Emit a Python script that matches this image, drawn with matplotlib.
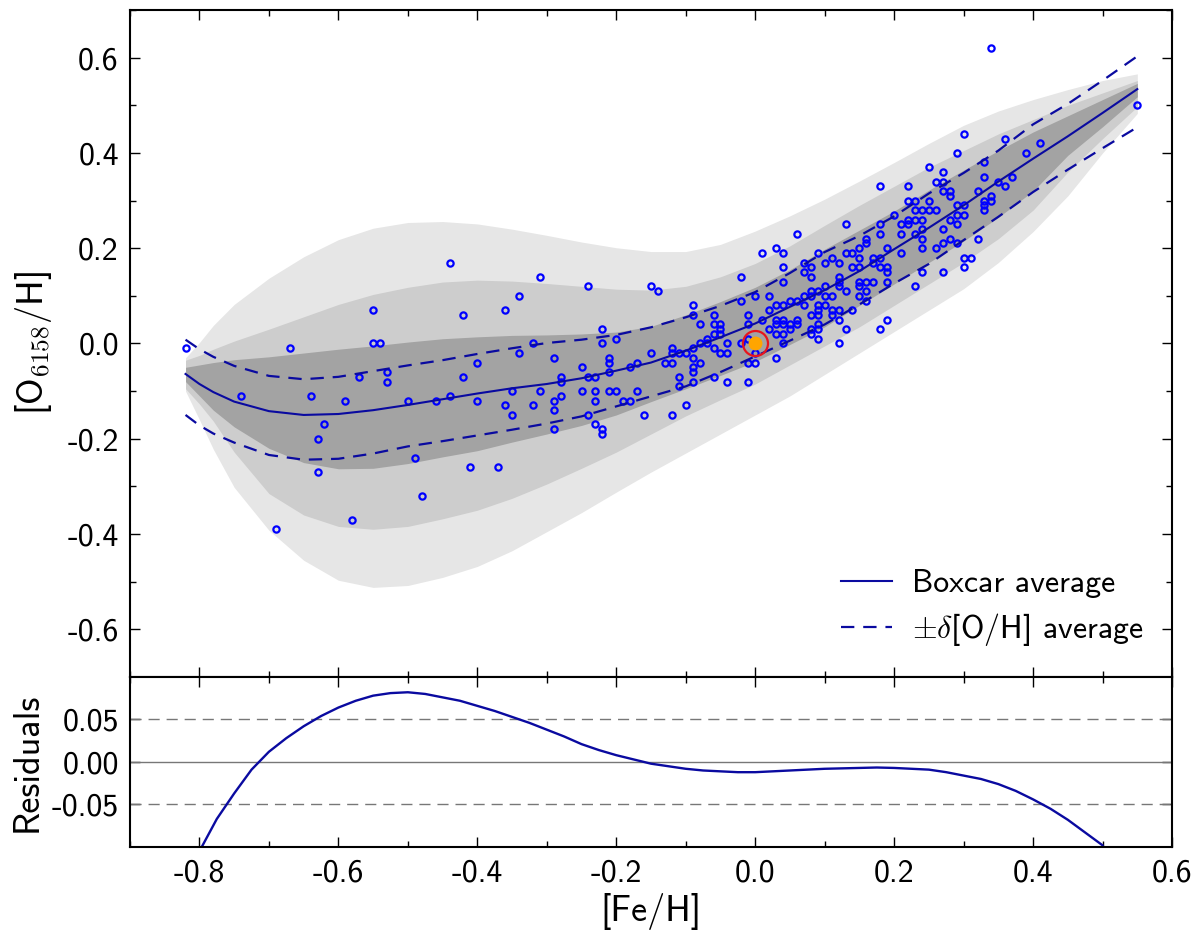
import matplotlib
matplotlib.use("Agg")
import matplotlib.pyplot as plt
from matplotlib.ticker import MultipleLocator, FormatStrFormatter

plt.rcParams['font.family'] = ['cmss10', 'DejaVu Sans']
plt.rcParams['mathtext.fontset'] = 'cm'
plt.rcParams['axes.unicode_minus'] = False
plt.rcParams['font.size'] = 23

# stars: [Fe/H] and [O6158/H]
fe_stars = [
    -0.82, -0.67, -0.55, -0.55, -0.54, -0.44, -0.57, -0.53, -0.53, -0.74, -0.64, -0.59,
    -0.50, -0.46, -0.44, -0.62, -0.63, -0.49, -0.63, -0.48, -0.58, -0.69,
    -0.31, -0.24, -0.15, -0.14, 0.01, -0.02, -0.34, -0.42, -0.36, -0.22, -0.20, -0.22,
    -0.32, -0.34, -0.40, -0.29, -0.42, -0.40, -0.35, -0.36, -0.35, -0.32, -0.31, -0.29,
    -0.28, -0.29, -0.29, -0.28, -0.28, -0.25, -0.25, -0.24, -0.23, -0.23, -0.23, -0.24,
    -0.23, -0.22, -0.22, -0.21, -0.21, -0.21, -0.21, -0.20, -0.19, -0.18, -0.18, -0.17,
    -0.17, -0.16, -0.15, -0.13, -0.12, -0.12, -0.12, -0.11, -0.10, -0.12, -0.11, -0.11,
    -0.10, -0.09, -0.09, -0.08, -0.09, -0.09, -0.09, -0.09, -0.09, -0.08, -0.07, -0.07,
    -0.08, -0.06, -0.06, -0.05, -0.05, -0.06, -0.05, -0.06, -0.04, -0.05, -0.04, -0.06,
    -0.04, -0.02, -0.02, 0.00, -0.01, -0.01, 0.01, -0.01, 0.00, -0.01, 0.00, -0.01,
    0.02, 0.02,
    0.18, 0.22, 0.26, 0.27, 0.28, 0.28, 0.22, 0.23, 0.25, 0.23, 0.24, 0.25, 0.26, 0.29,
    0.30, 0.29, 0.30, 0.20, 0.21, 0.22, 0.23, 0.24, 0.22, 0.28, 0.29, 0.18, 0.13, 0.18,
    0.21, 0.23, 0.24, 0.27, 0.06, 0.16, 0.16, 0.24, 0.28, 0.27, 0.19, 0.21, 0.24, 0.26,
    0.03, 0.04, 0.09, 0.13, 0.14, 0.15, 0.15, 0.17, 0.18, 0.07, 0.10, 0.11, 0.12, 0.08,
    0.04, 0.14, 0.15, 0.17, 0.18, 0.19, 0.19, 0.24, 0.27, 0.30, 0.30, 0.07, 0.04, 0.08,
    0.12, 0.12, 0.12, 0.13, 0.15, 0.16, 0.17, 0.15, 0.19, 0.23, 0.16, 0.15, 0.16, 0.10,
    0.09, 0.08, 0.10, 0.11, 0.07, 0.08, 0.06, 0.05, 0.04, 0.03, 0.02, 0.07, 0.09, 0.10,
    0.09, 0.09, 0.11, 0.12, 0.08, 0.12, 0.14, 0.03, 0.04, 0.03, 0.04, 0.05, 0.06, 0.06,
    0.08, 0.09, 0.09, 0.11, 0.05, 0.03, 0.04, 0.09, 0.08, 0.13, 0.12, 0.18, 0.19, 0.04,
    0.03,
    0.34, 0.55, 0.30, 0.36, 0.41, 0.29, 0.39, 0.25, 0.33, 0.27, 0.33, 0.37, 0.35, 0.36,
    0.27, 0.32, 0.34, 0.33, 0.34, 0.33, 0.33, 0.29, 0.31, 0.32,
    -0.41, -0.37,
]
o_stars = [
    -0.01, -0.01, 0.07, 0.00, 0.00, 0.17, -0.07, -0.06, -0.08, -0.11, -0.11, -0.12,
    -0.12, -0.12, -0.11, -0.17, -0.20, -0.24, -0.27, -0.32, -0.37, -0.39,
    0.14, 0.12, 0.12, 0.11, 0.19, 0.14, 0.10, 0.06, 0.07, 0.03, 0.01, 0.00,
    0.00, -0.02, -0.04, -0.03, -0.07, -0.12, -0.10, -0.13, -0.15, -0.13, -0.10, -0.12,
    -0.11, -0.14, -0.18, -0.07, -0.08, -0.05, -0.10, -0.07, -0.07, -0.10, -0.12, -0.15,
    -0.17, -0.18, -0.19, -0.03, -0.04, -0.06, -0.10, -0.10, -0.12, -0.12, -0.05, -0.04,
    -0.10, -0.15, -0.02, -0.04, -0.04, -0.01, -0.02, -0.02, -0.02, -0.15, -0.07, -0.09,
    -0.13, 0.08, 0.06, 0.04, -0.01, -0.03, -0.05, -0.06, -0.08, 0.00, 0.00, 0.01,
    -0.04, 0.06, 0.04, 0.04, 0.03, 0.02, 0.02, -0.01, 0.00, -0.02, -0.02, -0.07,
    -0.08, 0.00, 0.09, 0.10, 0.06, 0.04, 0.05, 0.01, -0.02, -0.04, -0.04, -0.08,
    0.03, 0.10,
    0.33, 0.33, 0.34, 0.34, 0.32, 0.31, 0.30, 0.30, 0.30, 0.28, 0.28, 0.28, 0.28, 0.29,
    0.29, 0.27, 0.27, 0.27, 0.25, 0.26, 0.26, 0.26, 0.25, 0.26, 0.25, 0.25, 0.25, 0.23,
    0.23, 0.23, 0.24, 0.24, 0.23, 0.22, 0.21, 0.22, 0.22, 0.21, 0.20, 0.19, 0.20, 0.20,
    0.20, 0.19, 0.19, 0.19, 0.19, 0.20, 0.18, 0.18, 0.18, 0.17, 0.17, 0.18, 0.17, 0.16,
    0.16, 0.16, 0.16, 0.17, 0.16, 0.16, 0.15, 0.15, 0.15, 0.18, 0.16, 0.15, 0.13, 0.14,
    0.14, 0.13, 0.12, 0.11, 0.13, 0.13, 0.13, 0.12, 0.13, 0.12, 0.11, 0.10, 0.09, 0.12,
    0.11, 0.11, 0.10, 0.10, 0.10, 0.10, 0.09, 0.09, 0.08, 0.08, 0.07, 0.08, 0.08, 0.08,
    0.07, 0.06, 0.07, 0.07, 0.06, 0.05, 0.07, 0.05, 0.05, 0.04, 0.04, 0.04, 0.05, 0.04,
    0.03, 0.04, 0.03, 0.06, 0.03, 0.02, 0.02, 0.01, 0.02, 0.03, 0.00, 0.03, 0.05, 0.00,
    -0.03,
    0.62, 0.50, 0.44, 0.43, 0.42, 0.40, 0.40, 0.37, 0.38, 0.36, 0.35, 0.35, 0.34, 0.33,
    0.32, 0.32, 0.31, 0.30, 0.30, 0.29, 0.28, 0.21, 0.18, 0.22,
    -0.26, -0.26,
]

# the Sun
sun_fe = [0.0]
sun_o = [0.0]

# boxcar average, +-delta average and the 1/2/3 sigma bands
fe_grid = [-0.82, -0.80, -0.78, -0.75, -0.70, -0.65, -0.60, -0.55, -0.50, -0.45,
           -0.40, -0.35, -0.30, -0.25, -0.20, -0.15, -0.10, -0.05, 0.00, 0.05,
           0.10, 0.15, 0.20, 0.25, 0.30, 0.35, 0.40, 0.45, 0.50, 0.55]
boxcar_mean = [-0.064, -0.085, -0.102, -0.122, -0.142, -0.150, -0.148, -0.140, -0.129, -0.117,
               -0.105, -0.094, -0.085, -0.073, -0.057, -0.040, -0.015, 0.013, 0.042, 0.077,
               0.112, 0.152, 0.198, 0.243, 0.290, 0.340, 0.388, 0.435, 0.484, 0.534]
delta_hi = [0.008, -0.012, -0.028, -0.047, -0.068, -0.075, -0.070, -0.058, -0.046, -0.035,
            -0.022, -0.010, 0.001, 0.008, 0.018, 0.034, 0.055, 0.079, 0.108, 0.148,
            0.192, 0.226, 0.267, 0.315, 0.358, 0.405, 0.460, 0.503, 0.552, 0.603]
delta_lo = [-0.150, -0.172, -0.189, -0.208, -0.234, -0.244, -0.242, -0.231, -0.216, -0.205,
            -0.193, -0.181, -0.168, -0.153, -0.132, -0.111, -0.090, -0.060, -0.027, 0.006,
            0.040, 0.082, 0.126, 0.167, 0.217, 0.266, 0.318, 0.365, 0.410, 0.454]
light_hi = [-0.030, 0.002, 0.038, 0.082, 0.137, 0.182, 0.218, 0.242, 0.254, 0.256,
            0.251, 0.240, 0.227, 0.213, 0.201, 0.193, 0.193, 0.208, 0.236, 0.268,
            0.303, 0.341, 0.380, 0.420, 0.458, 0.488, 0.512, 0.533, 0.552, 0.566]
light_lo = [-0.100, -0.160, -0.222, -0.302, -0.392, -0.455, -0.497, -0.512, -0.508, -0.491,
            -0.468, -0.435, -0.395, -0.355, -0.312, -0.270, -0.230, -0.190, -0.150, -0.110,
            -0.065, -0.020, 0.025, 0.070, 0.115, 0.170, 0.235, 0.310, 0.400, 0.483]
med_hi = [-0.035, -0.025, -0.012, 0.005, 0.030, 0.056, 0.082, 0.103, 0.118, 0.129,
          0.133, 0.131, 0.126, 0.120, 0.114, 0.112, 0.120, 0.140, 0.168, 0.205,
          0.248, 0.290, 0.330, 0.370, 0.405, 0.440, 0.470, 0.500, 0.526, 0.552]
med_lo = [-0.095, -0.127, -0.163, -0.228, -0.315, -0.360, -0.384, -0.390, -0.384, -0.368,
          -0.350, -0.325, -0.295, -0.262, -0.228, -0.190, -0.152, -0.118, -0.085, -0.045,
          -0.005, 0.035, 0.080, 0.125, 0.170, 0.220, 0.280, 0.360, 0.430, 0.497]
dark_hi = [-0.050, -0.045, -0.040, -0.034, -0.028, -0.020, -0.012, -0.005, 0.003, 0.010,
           0.014, 0.017, 0.018, 0.020, 0.024, 0.036, 0.060, 0.088, 0.118, 0.155,
           0.198, 0.238, 0.278, 0.322, 0.364, 0.405, 0.444, 0.478, 0.512, 0.546]
dark_lo = [-0.080, -0.110, -0.140, -0.175, -0.220, -0.250, -0.263, -0.262, -0.252, -0.238,
           -0.225, -0.207, -0.190, -0.172, -0.150, -0.122, -0.095, -0.067, -0.038, -0.002,
           0.035, 0.080, 0.125, 0.170, 0.215, 0.265, 0.320, 0.395, 0.455, 0.518]

# residuals panel
resid_fe = [-0.800, -0.775, -0.750, -0.725, -0.700, -0.675, -0.650, -0.625, -0.600, -0.575,
            -0.550, -0.525, -0.500, -0.475, -0.450, -0.425, -0.400, -0.375, -0.350, -0.325,
            -0.300, -0.275, -0.250, -0.225, -0.200, -0.175, -0.150, -0.125, -0.100, -0.075,
            -0.050, -0.025, 0.000, 0.025, 0.050, 0.075, 0.100, 0.125, 0.150, 0.175,
            0.200, 0.225, 0.250, 0.275, 0.300, 0.325, 0.350, 0.375, 0.400, 0.425,
            0.450, 0.475, 0.500]
resid = [-0.105, -0.067, -0.037, -0.009, 0.012, 0.028, 0.042, 0.054, 0.064, 0.072,
         0.078, 0.081, 0.082, 0.080, 0.076, 0.072, 0.066, 0.060, 0.053, 0.046,
         0.038, 0.030, 0.021, 0.014, 0.008, 0.003, -0.002, -0.005, -0.008, -0.010,
         -0.011, -0.012, -0.012, -0.011, -0.010, -0.009, -0.008, -0.0075, -0.007, -0.0065,
         -0.007, -0.008, -0.009, -0.012, -0.016, -0.020, -0.026, -0.034, -0.044, -0.055,
         -0.068, -0.083, -0.098]

line_col = '#0a0aa0'

fig = plt.figure(figsize=(12, 9.38), dpi=100)
ax = fig.add_axes([0.1083, 0.2783, 0.8684, 0.7110])
axr = fig.add_axes([0.1083, 0.0970, 0.8684, 0.1813], sharex=ax)

# bands
ax.fill_between(fe_grid, light_lo, light_hi, color='#e6e6e6', lw=0, zorder=1)
ax.fill_between(fe_grid, med_lo, med_hi, color='#cdcdcd', lw=0, zorder=2)
ax.fill_between(fe_grid, dark_lo, dark_hi, color='#a3a3a3', lw=0, zorder=3)

ax.plot(fe_stars, o_stars, 'o', mfc='none', mec='#0000ff', ms=4.5, mew=1.6, zorder=4)
ax.plot(fe_grid, boxcar_mean, '-', color=line_col, lw=1.5, zorder=5, label='Boxcar average')
ax.plot(fe_grid, delta_hi, '--', color=line_col, lw=1.6, dashes=(6, 4), zorder=5,
        label=r'$\pm\delta$[O/H] average')
ax.plot(fe_grid, delta_lo, '--', color=line_col, lw=1.6, dashes=(6, 4), zorder=5)

ax.plot(sun_fe, sun_o, 'o', color='#ffa500', ms=10, mew=0, zorder=6)
ax.plot(sun_fe, sun_o, 'o', mfc='none', mec='#e8141c', ms=18, mew=1.6, zorder=7)

ax.set_xlim(-0.9, 0.6)
ax.set_ylim(-0.7, 0.7)
ax.yaxis.set_major_locator(MultipleLocator(0.2))
ax.yaxis.set_minor_locator(MultipleLocator(0.1))
ax.yaxis.set_major_formatter(FormatStrFormatter('%.1f'))
ax.set_ylabel(r'[O$_{6158}$/H]', fontsize=26, labelpad=10)
ax.tick_params(labelbottom=False)

leg = ax.legend(loc='lower right', frameon=False, fontsize=23, handlelength=1.6,
                handletextpad=0.6, labelspacing=0.4, borderaxespad=0.5)

# residuals
axr.axhline(0.05, color='#777777', lw=1.0, dashes=(8, 5))
axr.axhline(-0.05, color='#777777', lw=1.0, dashes=(8, 5))
axr.axhline(0.0, color='#777777', lw=1.0)
axr.plot(resid_fe, resid, '-', color=line_col, lw=1.7)
axr.set_ylim(-0.1, 0.1)
axr.set_yticks([-0.05, 0.0, 0.05])
axr.yaxis.set_major_formatter(FormatStrFormatter('%.2f'))
axr.xaxis.set_major_locator(MultipleLocator(0.2))
axr.xaxis.set_minor_locator(MultipleLocator(0.1))
axr.xaxis.set_major_formatter(FormatStrFormatter('%.1f'))
axr.set_xlabel('[Fe/H]', fontsize=26, labelpad=4)
axr.set_ylabel('Residuals', fontsize=26, labelpad=6)

for a in (ax, axr):
    a.tick_params(which='both', direction='in', top=True, right=True, labelsize=23, pad=8)
    a.tick_params(which='major', length=7, width=1)
    a.tick_params(which='minor', length=4, width=1)
    for s in a.spines.values():
        s.set_linewidth(1.5)

fig.savefig('out.png', dpi=100)
